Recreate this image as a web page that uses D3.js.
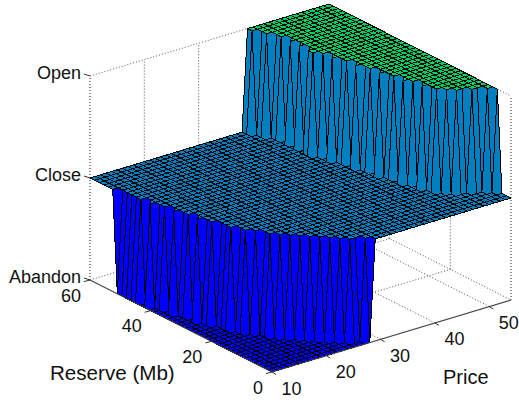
<!DOCTYPE html>
<html><head><meta charset="utf-8">
<style>html,body{margin:0;padding:0;background:#fff}svg{display:block}text{font-family:"Liberation Sans",Arial,sans-serif;fill:#111}</style>
<script src="https://cdn.jsdelivr.net/npm/d3@7"></script></head><body>
<svg id="c" width="519" height="400"></svg>
<script>
const prices=[10,11,12,13,14,15,16,17,18,19,20,21,22,23,24,25,26,27,28,29,30,31,32,33,34,35,36,37,38,39,40,41,42,43,44,45,46,47,48,49,50,51,52,53,54];
const reserves=[0,1.5,3,4.5,6,7.5,9,10.5,12,13.5,15,16.5,18,19.5,21,22.5,24,25.5,27,28.5,30,31.5,33,34.5,36,37.5,39,40.5,42,43.5,45,46.5,48,49.5,51,52.5,54,55.5,57,58.5,60];
// first price at which the decision leaves Abandon, for each reserve
const closeFrom=[29,28,26,25,24,23,22,21,20,19,18,18,17,16,16,15,15,15,14,14,13,14,13,13,12,13,12,12,11,12,11,11,11,11,11,10,10,10,10,10,10];
// first price at which the decision becomes Open, for each reserve
const openFrom=[99,99,99,54,53,51,49,48,47,47,46,47,46,45,46,45,45,44,45,44,44,43,44,43,43,42,43,42,41,41,42,41,42,41,42,41,41,40,40,39,39];
const levels=[-1,0,1];
const levelNames=["Abandon","Close","Open"];
const priceTicks=[10,20,30,40,50];
const reserveTicks=[0,20,40,60];
const levelColors=["#0000ff","#0080c0","#00d060"];

const pX=d3.scaleLinear().domain([10,54]).range([0,239]);
const pY=d3.scaleLinear().domain([10,54]).range([0,-72]);
const rX=d3.scaleLinear().domain([0,60]).range([272,90]);
const rY=d3.scaleLinear().domain([0,60]).range([372,280]);
const zY=d3.scaleLinear().domain([-1,1]).range([0,-204]);
const color=d3.scaleOrdinal().domain(levels).range(levelColors);
const px=(p,r)=>pX(p)+rX(r);
const py=(p,r,z)=>pY(p)+rY(r)+zY(z);
const pt=(p,r,z)=>[px(p,r),py(p,r,z)];
const level=(i,j)=>{const p=prices[i];return p<closeFrom[j]?-1:(p>=openFrom[j]?1:0);};

const svg=d3.select("#c");
const line=d3.line();
const dots="1 2";
const guide=(a,b,col="#555")=>svg.append("path").attr("d",line([a,b])).attr("fill","none").attr("stroke",col).attr("stroke-width",1).attr("stroke-dasharray",dots);
const solid=(a,b,col="#333",w=1)=>svg.append("path").attr("d",line([a,b])).attr("fill","none").attr("stroke",col).attr("stroke-width",w);

const pMin=10,pMax=54,rMax=60;
levels.forEach(z=>{
  guide(pt(pMin,rMax,z),pt(pMax,rMax,z));
  guide(pt(pMax,rMax,z),pt(pMax,0,z));
});
guide(pt(pMin,rMax,-1),pt(pMin,rMax,1),"#222");
guide(pt(pMax,0,-1),pt(pMax,0,1),"#222");
guide(pt(pMax,rMax,-1),pt(pMax,rMax,1));
priceTicks.filter(p=>p>10).forEach(p=>{
  guide(pt(p,rMax,-1),pt(p,rMax,1));
  guide(pt(p,0,-1),pt(p,rMax,-1));
});
reserveTicks.filter(r=>r>0&&r<60).forEach(r=>{
  guide(pt(pMax,r,-1),pt(pMax,r,1));
  guide(pt(pMin,r,-1),pt(pMax,r,-1));
});

const gSurf=svg.append("g");
const cells=[];
for(let j=reserves.length-2;j>=0;j--)for(let i=prices.length-2;i>=0;i--)cells.push([i,j]);
gSurf.selectAll("path").data(cells).join("path")
  .attr("d",([i,j])=>line([
    pt(prices[i],reserves[j],level(i,j)),
    pt(prices[i+1],reserves[j],level(i+1,j)),
    pt(prices[i+1],reserves[j+1],level(i+1,j+1)),
    pt(prices[i],reserves[j+1],level(i,j+1))])+"Z")
  .attr("fill",([i,j])=>color(level(i,j)))
  .attr("stroke","#000").attr("stroke-width",1).attr("stroke-linejoin","round")
  .attr("shape-rendering","crispEdges");

solid(pt(pMin,rMax,-1),pt(pMin,0,-1),"#444",1.2);
solid(pt(pMin,0,-1),pt(pMax,0,-1),"#444",1.2);
const fs=18;
priceTicks.forEach(p=>{
  const a=pt(p,0,-1);
  solid(a,[a[0]+4,a[1]+2.5],"#333");
  svg.append("text").text(p).attr("x",a[0]+19.5).attr("y",a[1]+22.5).attr("text-anchor","middle").attr("font-size",fs);
});
reserveTicks.forEach(r=>{
  const a=pt(pMin,r,-1);
  solid(a,[a[0]-6,a[1]+1.6],"#333");
  svg.append("text").text(r).attr("x",a[0]-9).attr("y",a[1]+21.5).attr("text-anchor","end").attr("font-size",fs);
});
levels.forEach((z,k)=>{
  const a=pt(pMin,rMax,z);
  solid(a,[a[0]-6,a[1]-2],"#333");
  svg.append("text").text(levelNames[k]).attr("x",81).attr("y",a[1]+3).attr("text-anchor","end").attr("font-size",fs);
});
svg.append("text").text("Reserve (Mb)").attr("x",50).attr("y",380).attr("font-size",20.6);
svg.append("text").text("Price").attr("x",443).attr("y",384).attr("font-size",20);
</script></body></html>
